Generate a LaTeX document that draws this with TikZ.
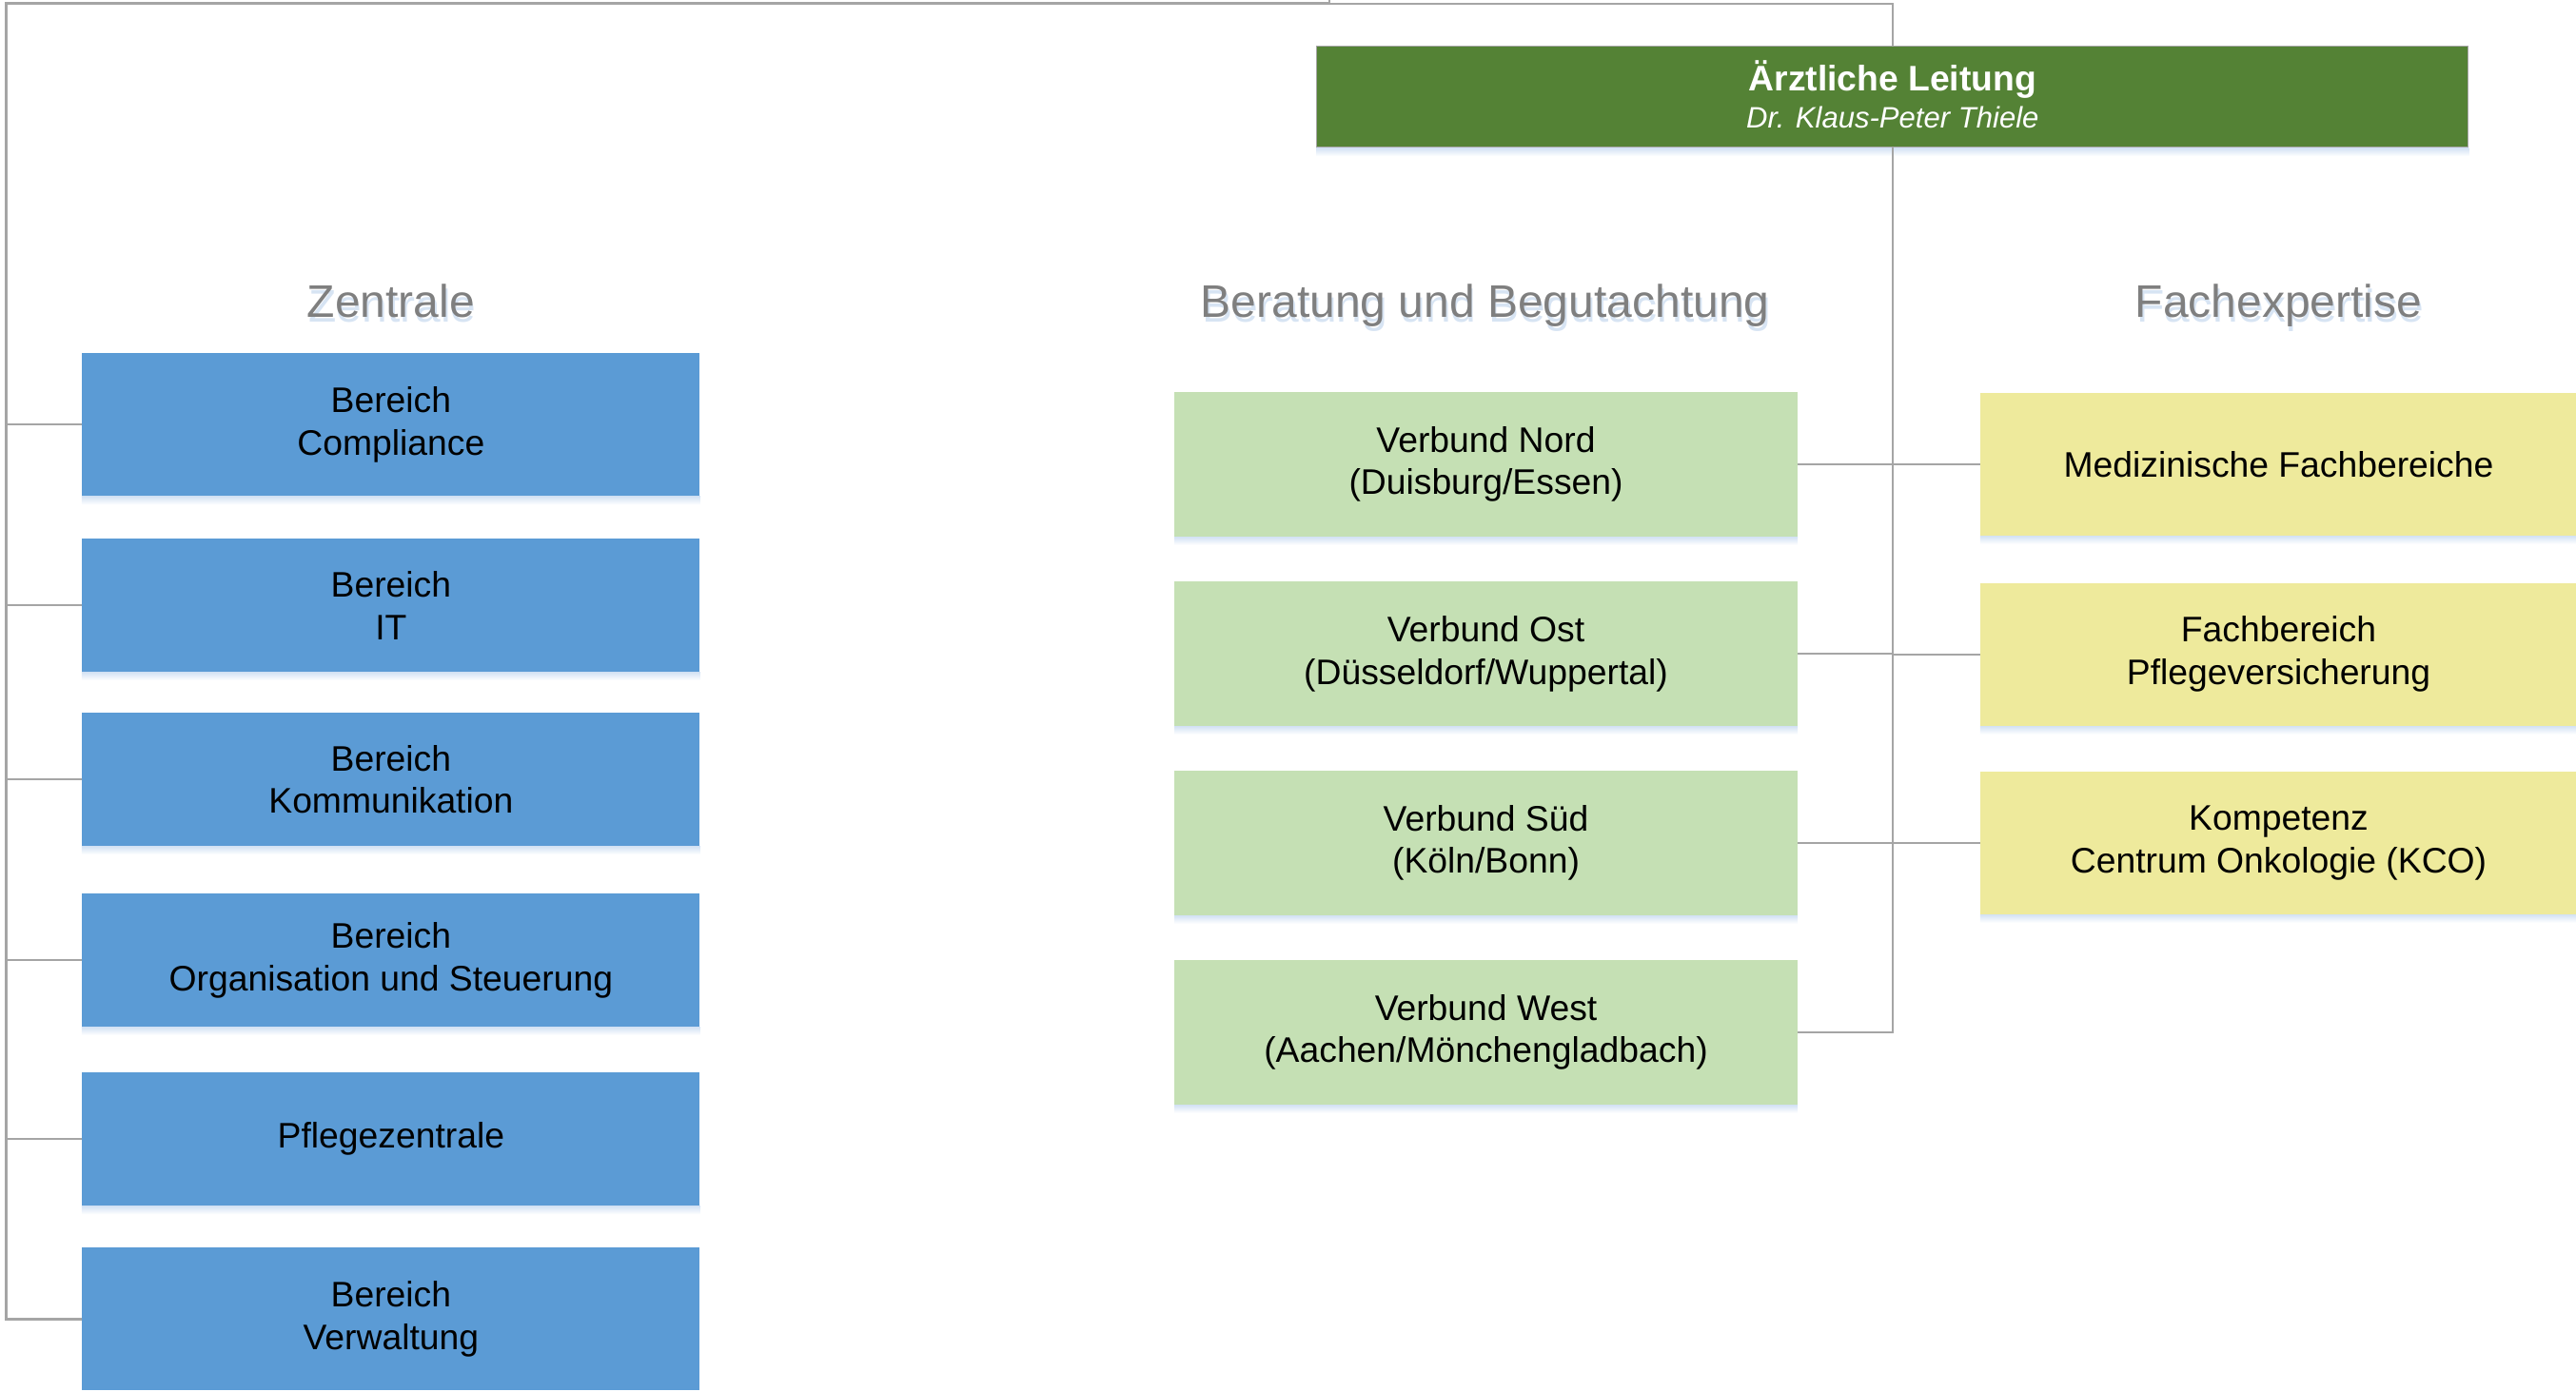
\documentclass[tikz,border=0pt]{standalone}
\usepackage{fontspec}
\setmainfont{Liberation Sans}
\definecolor{blueb}{HTML}{5B9BD5}
\definecolor{greenl}{HTML}{C5E0B4}
\definecolor{yell}{HTML}{EEEA9C}
\definecolor{greend}{HTML}{548235}
\definecolor{conn}{HTML}{A5A5A5}
\definecolor{hdr}{HTML}{7F7F7F}
\definecolor{shblue}{HTML}{D3E2F4}
\definecolor{hdrsh}{HTML}{C6D8EE}
\tikzset{
  box/.style={rectangle, inner sep=0pt, align=center, text=black,
    font=\fontsize{21.6}{26}\selectfont},
  bluebox/.style={box, fill=blueb, minimum width=376pt},
  greenbox/.style={box, fill=greenl, minimum width=379pt, minimum height=88pt},
  yellowbox/.style={box, fill=yell, minimum width=363pt, minimum height=87pt},
  leadbox/.style={box, fill=greend, draw=conn, line width=0.6pt, text=white,
    minimum width=701pt, minimum height=61.5pt, font=\fontsize{21.6}{22.8}\selectfont},
  header/.style={inner sep=0pt, anchor=base, text=hdr, font=\fontsize{27.8}{33}\selectfont},
  headersh/.style={header, text=hdrsh, opacity=0.7},
  conline/.style={draw=conn, line width=1.3pt},
  busthick/.style={draw=conn, line width=1.8pt},
  boxshadow/.style={top color=shblue, bottom color=white}
}
\begin{document}
\begin{tikzpicture}[x=1pt, y=-1pt]
\useasboundingbox (0,0) rectangle (1568,847);

% header shadows and headers
\foreach \t/\x in {Zentrale/238, Beratung und Begutachtung/904, Fachexpertise/1387}{
  \node[headersh] at (\x+1,196) {\t};
}
\node[header] (hz) at (238,193) {Zentrale};
\node[header] (hb) at (904,193) {Beratung und Begutachtung};
\node[header] (hf) at (1387,193) {Fachexpertise};

% leader
\node[leadbox] (lead) at (1152,59) {\textbf{Ärztliche Leitung}\\{\fontsize{18}{22.8}\selectfont\itshape Dr. Klaus-Peter Thiele\rule[-3.5pt]{0pt}{3.5pt}}};

% Zentrale boxes
\node[bluebox, minimum height=87pt] (b1) at (238,258.5) {Bereich\\Compliance};
\node[bluebox, minimum height=81pt] (b2) at (238,368.5) {Bereich\\IT};
\node[bluebox, minimum height=81pt] (b3) at (238,474.5) {Bereich\\Kommunikation};
\node[bluebox, minimum height=81pt] (b4) at (238,584.5) {Bereich\\Organisation und Steuerung};
\node[bluebox, minimum height=81pt] (b5) at (238,693.5) {Pflegezentrale};
\node[bluebox, minimum height=87pt] (b6) at (238,803) {Bereich\\Verwaltung};

% Beratung boxes
\node[greenbox] (g1) at (904.5,282.6) {Verbund Nord\\(Duisburg/Essen)};
\node[greenbox] (g2) at (904.5,397.9) {Verbund Ost\\(Düsseldorf/Wuppertal)};
\node[greenbox] (g3) at (904.5,513.1) {Verbund Süd\\(Köln/Bonn)};
\node[greenbox] (g4) at (904.5,628.4) {Verbund West\\(Aachen/Mönchengladbach)};

% Fachexpertise boxes
\node[yellowbox] (y1) at (1387,282.5) {Medizinische Fachbereiche};
\node[yellowbox] (y2) at (1387,398.3) {Fachbereich\\Pflegeversicherung};
\node[yellowbox] (y3) at (1387,513) {Kompetenz\\Centrum Onkologie (KCO)};

% box shadows
\foreach \n in {b1,b2,b3,b4,b5,g1,g2,g3,g4,y1,y2,y3,lead}{
  \shade[boxshadow] (\n.south west) rectangle ([yshift=-5pt]\n.south east);
}

% bus coordinates
\coordinate (tl) at (4,2.2);
\coordinate (tk) at (809,2.2);
\coordinate (tr) at (1152,2.2);
\coordinate (tp) at (809,0);

% left bus
\draw[busthick] (b6.west) -- (b6.west -| tl) -- (tl) -- (tk);
\foreach \n in {b1,b2,b3,b4,b5}{
  \draw[conline] (\n.west) -- (\n.west -| tl);
}
% top and right bus
\draw[conline] (tp) -- (tk) -- (tr) -- (tr |- lead.north);
\draw[conline] (tr |- lead.south) -- (tr |- g4.east) -- (g4.east);
\foreach \n in {g1,g2,g3}{
  \draw[conline] (\n.east) -- (\n.east -| tr);
}
\foreach \n in {y1,y2,y3}{
  \draw[conline] (\n.west) -- (\n.west -| tr);
}
\end{tikzpicture}
\end{document}
